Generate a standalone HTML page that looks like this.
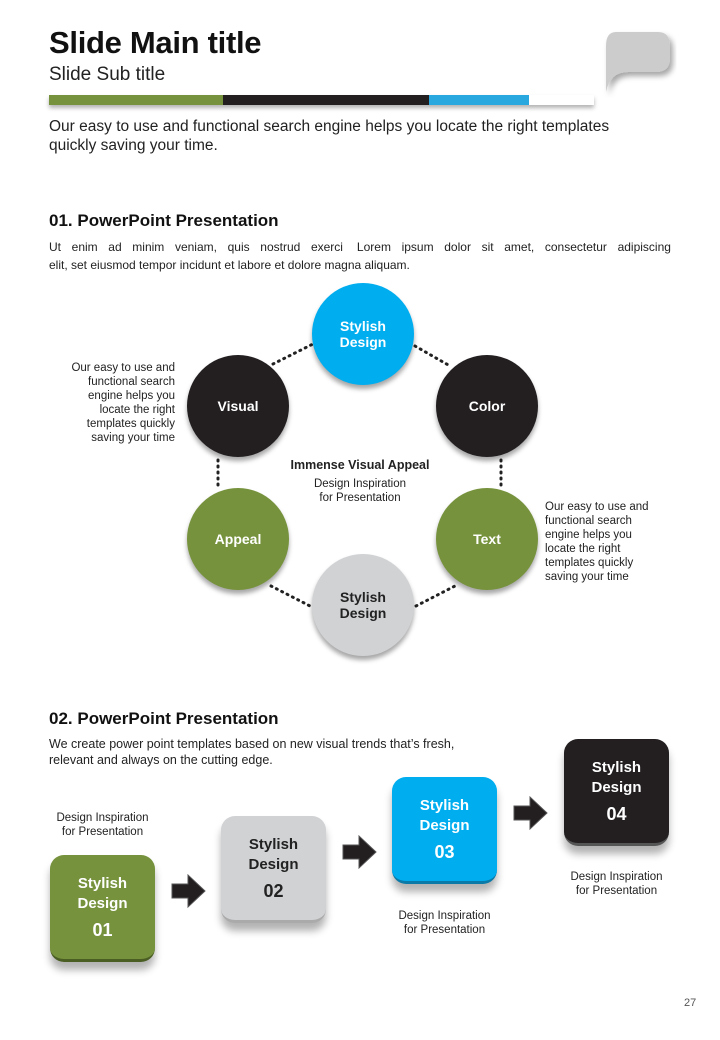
<!DOCTYPE html>
<html><head><meta charset="utf-8"><style>
body{margin:0;width:720px;height:1040px;background:#fff;position:relative;font-family:"Liberation Sans",sans-serif;color:#222;overflow:hidden}
.a{position:absolute}
.c{position:absolute;width:102px;height:102px;border-radius:50%;display:flex;align-items:center;justify-content:center;text-align:center;color:#fff;font-weight:bold;font-size:14px;line-height:16px;box-shadow:0 4px 5px rgba(0,0,0,.35)}
.b{position:absolute;width:105px;height:104px;border-radius:14px;display:flex;flex-direction:column;align-items:center;justify-content:center;text-align:center;font-weight:bold;font-size:15px;line-height:20px;box-shadow:0 8px 8px rgba(0,0,0,.3)}
.b span{font-size:18px;margin-top:6px}
.s{font-size:11.5px;line-height:14px;text-align:center;position:absolute;color:#222}
</style></head><body>
<div class="a" style="left:49px;top:25px;font-size:31px;font-weight:bold;color:#111;letter-spacing:-0.3px">Slide Main title</div>
<div class="a" style="left:49px;top:64px;font-size:19px;color:#222">Slide Sub title</div>
<div class="a" style="left:49px;top:95px;height:10px;width:545px;display:flex;box-shadow:0 3px 4px rgba(0,0,0,.3)">
<div style="width:174px;background:#76923c"></div><div style="width:206px;background:#231f20"></div><div style="width:100px;background:#29a8e0"></div><div style="width:65px;background:#fff"></div></div>
<svg class="a" style="left:598px;top:28px" width="80" height="80"><defs><filter id="f"><feDropShadow dx="3" dy="4" stdDeviation="3" flood-opacity=".35"/></filter></defs><path d="M18 4 H60 Q72 4 72 18 V30 Q72 44 58 44 H30 Q12 44 8 64 V18 Q8 4 18 4Z" fill="#ccc" filter="url(#f)"/></svg>
<div class="a" style="left:49px;top:117px;font-size:15.5px;line-height:19px;width:605px">Our easy to use and functional search engine helps you locate the right templates quickly saving your time.</div>
<div class="a" style="left:49px;top:211px;font-size:17px;font-weight:bold;color:#111">01. PowerPoint Presentation</div>
<div class="a" style="left:49px;top:238px;font-size:12px;line-height:18px;width:622px">
<div style="text-align:justify;text-align-last:justify;white-space:nowrap;display:flex;justify-content:space-between"><span>Ut</span><span>enim</span><span>ad</span><span>minim</span><span>veniam,</span><span>quis</span><span>nostrud</span><span>exerci</span><span>&nbsp;Lorem</span><span>ipsum</span><span>dolor</span><span>sit</span><span>amet,</span><span>consectetur</span><span>adipiscing</span></div>
<div>elit, set eiusmod tempor incidunt et labore et dolore magna aliquam.</div></div>
<svg class="a" style="left:0;top:0" width="720" height="700"><g stroke="#222" stroke-width="3" stroke-dasharray="1 5" stroke-linecap="round" fill="none">
<line x1="273" y1="364" x2="313" y2="344"/><line x1="415" y1="346" x2="450" y2="366"/>
<line x1="218" y1="460" x2="218" y2="490"/><line x1="501" y1="460" x2="501" y2="490"/>
<line x1="271" y1="586" x2="310" y2="606"/><line x1="416" y1="606" x2="455" y2="586"/></g></svg>
<div class="c" style="left:312px;top:283px;background:#00adef">Stylish<br>Design</div>
<div class="c" style="left:187px;top:355px;background:#231f20">Visual</div>
<div class="c" style="left:436px;top:355px;background:#231f20">Color</div>
<div class="c" style="left:187px;top:488px;background:#76923c">Appeal</div>
<div class="c" style="left:436px;top:488px;background:#76923c">Text</div>
<div class="c" style="left:312px;top:554px;background:#d1d2d4;color:#222">Stylish<br>Design</div>
<div class="a" style="left:260px;top:458px;width:200px;text-align:center;font-weight:bold;font-size:12.5px">Immense Visual Appeal</div>
<div class="s" style="left:280px;top:477px;width:160px">Design Inspiration<br>for Presentation</div>
<div class="s" style="left:50px;top:361px;width:125px;text-align:right">Our easy to use and<br>functional search<br>engine helps you<br>locate the right<br>templates quickly<br>saving your time</div>
<div class="s" style="left:545px;top:500px;width:125px;text-align:left">Our easy to use and<br>functional search<br>engine helps you<br>locate the right<br>templates quickly<br>saving your time</div>
<div class="a" style="left:49px;top:709px;font-size:17px;font-weight:bold;color:#111">02. PowerPoint Presentation</div>
<div class="a" style="left:49px;top:736px;font-size:12.5px;line-height:16px;width:470px">We create power point templates based on new visual trends that’s fresh,<br>relevant and always on the cutting edge.</div>
<div class="s" style="left:40px;top:811px;width:125px">Design Inspiration<br>for Presentation</div>
<div class="s" style="left:382px;top:909px;width:125px">Design Inspiration<br>for Presentation</div>
<div class="s" style="left:554px;top:870px;width:125px">Design Inspiration<br>for Presentation</div>
<div class="b" style="left:50px;top:855px;background:#76923c;color:#fff;border-bottom:3px solid #4a5e24">Stylish<br>Design<span>01</span></div>
<div class="b" style="left:221px;top:816px;background:#d1d2d4;color:#222;border-bottom:3px solid #aaa">Stylish<br>Design<span>02</span></div>
<div class="b" style="left:392px;top:777px;background:#00adef;color:#fff;border-bottom:3px solid #0a7aa8">Stylish<br>Design<span>03</span></div>
<div class="b" style="left:564px;top:739px;background:#231f20;color:#fff;border-bottom:3px solid #555">Stylish<br>Design<span>04</span></div>
<svg class="a" style="left:0;top:780px" width="720" height="140"><g fill="#231f20" stroke="#555" stroke-width="1">
<path d="M172 104 h16 v-9 l17 16 l-17 16 v-9 h-16z"/>
<path d="M343 65 h16 v-9 l17 16 l-17 16 v-9 h-16z"/>
<path d="M514 26 h16 v-9 l17 16 l-17 16 v-9 h-16z"/></g></svg>
<div class="a" style="left:684px;top:997px;font-size:11px;color:#555">27</div>
</body></html>
